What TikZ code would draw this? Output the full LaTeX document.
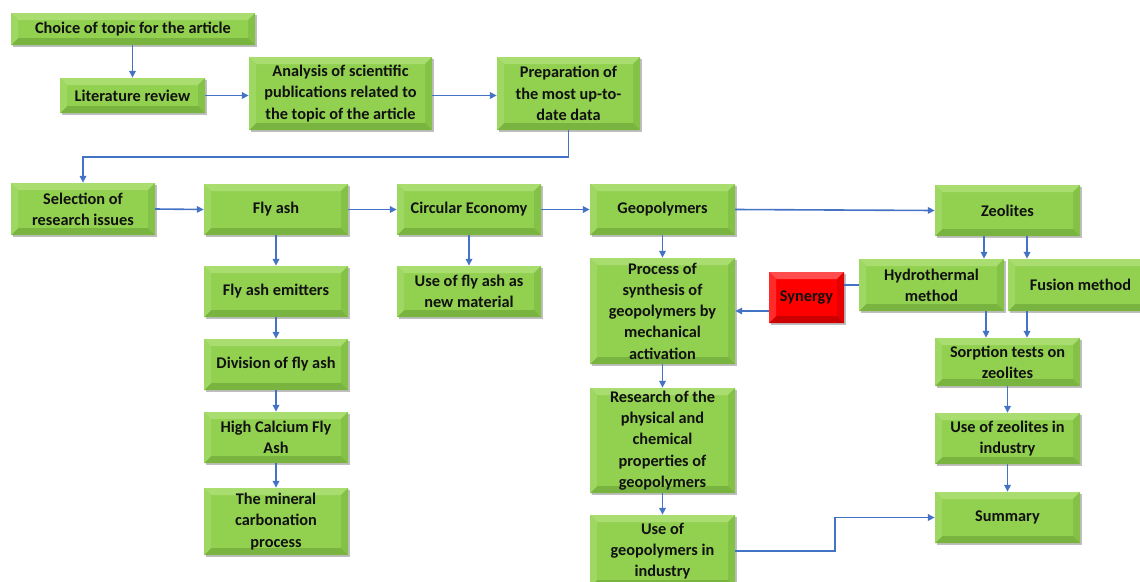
\documentclass[tikz,border=0pt]{standalone}
\usepackage{fontspec}
\setmainfont{Carlito}
\usetikzlibrary{arrows.meta,shadows,calc}

\definecolor{gmain}{HTML}{92D050}
\definecolor{gtop}{HTML}{AADD70}
\definecolor{gleft}{HTML}{9ED862}
\definecolor{gright}{HTML}{84C247}
\definecolor{gbot}{HTML}{7AB440}
\definecolor{rmain}{HTML}{FF0000}
\definecolor{rtop}{HTML}{FF4D4D}
\definecolor{rleft}{HTML}{FF2A2A}
\definecolor{rright}{HTML}{E60000}
\definecolor{rbot}{HTML}{CC0000}
\definecolor{linkblue}{HTML}{4472C4}
\definecolor{ink}{HTML}{111111}

% four bevel faces: top, right, bottom, left
\newcommand\bevelfaces[4]{%
  \def\bw{7pt}%
  \fill[#1] (path picture bounding box.north west) -- (path picture bounding box.north east)
    -- ([shift={(-\bw,-\bw)}]path picture bounding box.north east)
    -- ([shift={(\bw,-\bw)}]path picture bounding box.north west) -- cycle;
  \fill[#2] (path picture bounding box.north east) -- (path picture bounding box.south east)
    -- ([shift={(-\bw,\bw)}]path picture bounding box.south east)
    -- ([shift={(-\bw,-\bw)}]path picture bounding box.north east) -- cycle;
  \fill[#3] (path picture bounding box.south east) -- (path picture bounding box.south west)
    -- ([shift={(\bw,\bw)}]path picture bounding box.south west)
    -- ([shift={(-\bw,\bw)}]path picture bounding box.south east) -- cycle;
  \fill[#4] (path picture bounding box.south west) -- (path picture bounding box.north west)
    -- ([shift={(\bw,-\bw)}]path picture bounding box.north west)
    -- ([shift={(\bw,\bw)}]path picture bounding box.south west) -- cycle;
}

\tikzset{
  box/.style={fill=gmain, inner sep=0pt, align=center, text=ink,
    font=\bfseries\fontsize{16.3}{21.3}\selectfont,
    drop shadow={shadow xshift=1.5pt, shadow yshift=-2pt, fill=black, opacity=0.25},
    path picture={\bevelfaces{gtop}{gright}{gbot}{gleft}}},
  redbox/.style={box, fill=rmain,
    path picture={\bevelfaces{rtop}{rright}{rbot}{rleft}}},
  link/.style={draw=linkblue, line width=1.6pt, -{Triangle[length=7pt,width=6.5pt]}},
  plain link/.style={draw=linkblue, line width=1.6pt},
}

\begin{document}
\begin{tikzpicture}[x=1pt,y=-1pt]
\useasboundingbox (0,0) rectangle (1140,581);
\clip (0,0) rectangle (1140,581);

% top chain
\node[box, minimum width=244pt, minimum height=32pt] (choice) at (133,29) {Choice of topic for the article};
\node[box, minimum width=145pt, minimum height=35pt] (lit) at (132.5,95.5) {Literature review};
\node[box, minimum width=183pt, minimum height=73pt] (analysis) at (340.5,93.5) {Analysis of scientific\\publications related to\\the topic of the article};
\node[box, minimum width=143pt, minimum height=73pt] (prep) at (568.5,93.5) {Preparation of\\the most up-to-\\date data};

% main row
\node[box, minimum width=144pt, minimum height=52pt] (sel) at (83,209) {Selection of\\research issues};
\node[box, minimum width=144pt, minimum height=51pt] (fly) at (276,209.5) {Fly ash};
\node[box, minimum width=144pt, minimum height=51pt] (circ) at (469,209.5) {Circular Economy};
\node[box, minimum width=145pt, minimum height=51pt] (geo) at (662.5,209.5) {Geopolymers};
\node[box, minimum width=145pt, minimum height=51pt] (zeo) at (1007.5,210.5) {Zeolites};

% fly ash column
\node[box, minimum width=144pt, minimum height=51pt] (emit) at (276,291.5) {Fly ash emitters};
\node[box, minimum width=144pt, minimum height=51pt] (div) at (276,364.5) {Division of fly ash};
\node[box, minimum width=144pt, minimum height=51pt] (high) at (276,437.5) {High Calcium Fly\\Ash};
\node[box, minimum width=144pt, minimum height=67pt] (mineral) at (276,521.5) {The mineral\\carbonation\\process};

% circular economy column
\node[box, minimum width=144pt, minimum height=51pt] (usefly) at (469,291.5) {Use of fly ash as\\new material};

% geopolymer column
\node[box, minimum width=145pt, minimum height=106pt] (proc) at (662.5,311) {Process of\\synthesis of\\geopolymers by\\mechanical\\activation};
\node[box, minimum width=145pt, minimum height=105pt] (res) at (662.5,440.5) {Research of the\\physical and\\chemical\\properties of\\geopolymers};
\node[box, minimum width=145pt, minimum height=72pt] (usegeo) at (662.5,551) {Use of\\geopolymers in\\industry};

% zeolite column
\node[redbox, minimum width=75pt, minimum height=51pt] (syn) at (806.5,297.5) {Synergy};
\node[box, minimum width=145pt, minimum height=52pt] (hyd) at (931.5,285) {Hydrothermal\\method};
\node[box, minimum width=145pt, minimum height=52pt] (fus) at (1080.5,285) {Fusion method};
\node[box, minimum width=145pt, minimum height=48pt] (sorp) at (1007.5,362) {Sorption tests on\\zeolites};
\node[box, minimum width=145pt, minimum height=51pt] (usez) at (1007.5,438.5) {Use of zeolites in\\industry};
\node[box, minimum width=145pt, minimum height=51pt] (sum) at (1007.5,517.5) {Summary};

% connectors
\draw[link] (choice.south -| lit.north) -- (lit.north);
\draw[link] (lit.east) -- (lit.east -| analysis.west);
\draw[link] (analysis.east |- lit.east) -- (prep.west |- lit.east);
\draw[link] (prep.south) -- ++(0,27) -| (sel.north);
\draw[link] (sel.east) -- (fly.west);
\draw[link] (fly.east) -- (circ.west);
\draw[link] (circ.east) -- (geo.west);
\draw[link] (geo.east) -- (zeo.west);

\draw[link] (fly.south) -- (emit.north);
\draw[link] (emit.south) -- (div.north);
\draw[link] (div.south) -- (high.north);
\draw[link] (high.south) -- (mineral.north);

\draw[link] (circ.south) -- (usefly.north);

\draw[link] (geo.south) -- (proc.north);
\draw[link] (proc.south) -- (res.north);
\draw[link] (res.south) -- (usegeo.north);

\draw[link] ([xshift=-23.5pt]zeo.south) -- ([xshift=-23.5pt]zeo.south |- hyd.north);
\draw[link] ([xshift=19.5pt]zeo.south) -- ([xshift=19.5pt]zeo.south |- fus.north);
\draw[link] ([xshift=-21.5pt]sorp.north |- hyd.south) -- ([xshift=-21.5pt]sorp.north);
\draw[link] ([xshift=19.5pt]sorp.north |- fus.south) -- ([xshift=19.5pt]sorp.north);
\draw[link] (sorp.south) -- (usez.north);
\draw[link] (usez.south) -- (sum.north);

\draw[plain link] (hyd.west) -- (hyd.west -| syn.east);
\draw[link] (syn.west |- proc.east) -- (proc.east);

\coordinate (mid) at ($(usegeo.east)!0.5!(sum.west)$);
\draw[link] (usegeo.east) -| (mid) |- (sum.west);
\end{tikzpicture}
\end{document}
